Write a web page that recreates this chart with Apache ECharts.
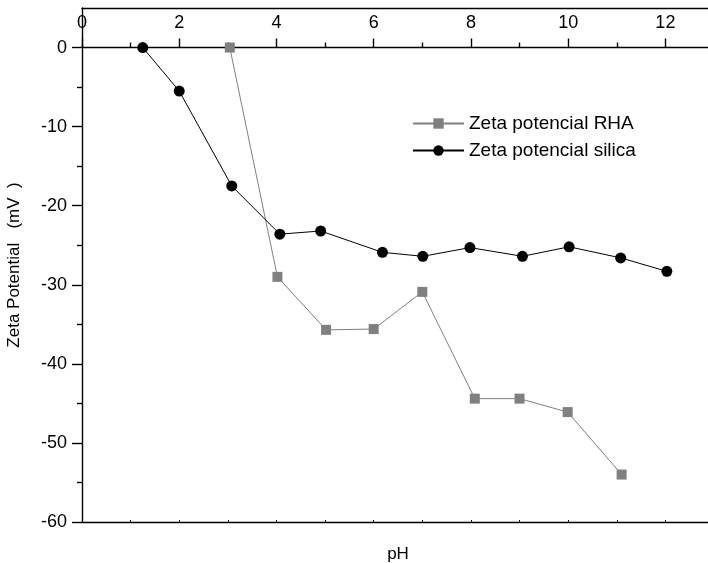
<!DOCTYPE html>
<html>
<head>
<meta charset="utf-8">
<script src="https://cdn.jsdelivr.net/npm/echarts@6/dist/echarts.min.js"></script>
<style>
html,body{margin:0;padding:0;background:#fff;}
#chart{width:708px;height:563px;}
</style>
</head>
<body>
<div id="chart"></div>
<script>
const seriesNames = ['Zeta potencial RHA', 'Zeta potencial silica'];
const rhaPH = [3.04, 4.02, 5.02, 6.0, 7.0, 8.08, 9.0, 9.99, 11.1];
const rhaZeta = [0, -29.0, -35.7, -35.6, -30.9, -44.4, -44.4, -46.1, -54.0];
const silicaPH = [1.25, 2.0, 3.08, 4.07, 4.91, 6.18, 7.01, 7.98, 9.06, 10.02, 11.08, 12.03];
const silicaZeta = [0, -5.5, -17.5, -23.6, -23.2, -25.9, -26.4, -25.3, -26.4, -25.2, -26.6, -28.3];
const xMajorTicks = [0, 2, 4, 6, 8, 10, 12];
const xMinorTicks = [1, 3, 5, 7, 9, 11];
const xBottomTicks = [1, 2, 3, 4, 5, 6, 7, 8, 9, 10, 11, 12];
const yMajorTicks = [-60, -50, -40, -30, -20, -10, 0];
const yMinorTicks = [-55, -45, -35, -25, -15, -5];
const xTitle = 'pH';
const yTitle = 'Zeta Potential   (mV  )';

const FONT = "'Liberation Sans', Arial, sans-serif";
const AX = { color: '#000', width: 1.4 };

const rhaData = rhaPH.map((x, i) => [x, rhaZeta[i]]);
const silicaData = silicaPH.map((x, i) => [x, silicaZeta[i]]);

const chart = echarts.init(document.getElementById('chart'));
chart.setOption({
  animation: false,
  backgroundColor: '#fff',
  textStyle: { fontFamily: FONT },
  grid: { left: 82, top: 8, width: 632, height: 514, containLabel: false, outerBoundsMode: 'none' },
  legend: {
    orient: 'vertical', left: 407, top: 109, itemWidth: 51, itemHeight: 13, itemGap: 8,
    textStyle: { fontSize: 19, color: '#000', fontFamily: FONT },
    data: seriesNames
  },
  xAxis: [
    { type: 'value', min: 0, max: 13, position: 'top',
      axisLine: { show: true, onZero: true, onZeroAxisIndex: 0, lineStyle: AX },
      axisTick: { show: true, inside: false, length: 9, customValues: xMajorTicks, lineStyle: AX },
      axisLabel: { show: false },
      splitLine: { show: false } },
    { type: 'value', min: 0, max: 13, position: 'top',
      axisLine: { show: false, onZero: true, onZeroAxisIndex: 0 },
      axisTick: { show: true, inside: false, length: 5, customValues: xMinorTicks, lineStyle: AX },
      axisLabel: { show: false }, splitLine: { show: false } },
    { type: 'value', min: 0, max: 13, position: 'top',
      axisLine: { show: true, onZero: false, lineStyle: AX },
      axisTick: { show: false },
      axisLabel: { show: true, inside: true, customValues: xMajorTicks, margin: 6, fontSize: 18, color: '#000', fontFamily: FONT },
      splitLine: { show: false } },
    { type: 'value', min: 0, max: 13, position: 'bottom',
      axisLine: { show: true, onZero: false, lineStyle: AX },
      axisTick: { show: true, inside: true, length: 2, customValues: xBottomTicks, lineStyle: { color: '#000', width: 1 } },
      axisLabel: { show: false }, splitLine: { show: false },
      name: xTitle, nameLocation: 'middle', nameGap: 24,
      nameTextStyle: { fontSize: 17, color: '#000', fontFamily: FONT } }
  ],
  yAxis: [
    { type: 'value', min: -60, max: 5, position: 'left',
      axisLine: { show: true, onZero: false, lineStyle: AX },
      axisTick: { show: true, inside: false, length: 10, customValues: yMajorTicks, lineStyle: AX },
      axisLabel: { show: true, customValues: yMajorTicks, margin: 15, fontSize: 18, color: '#000', fontFamily: FONT },
      splitLine: { show: false },
      name: yTitle, nameLocation: 'middle', nameGap: 59, nameRotate: 90,
      nameTextStyle: { fontSize: 17, color: '#000', fontFamily: FONT } },
    { type: 'value', min: -60, max: 5, position: 'left',
      axisLine: { show: false, onZero: false },
      axisTick: { show: true, inside: false, length: 5, customValues: yMinorTicks, lineStyle: AX },
      axisLabel: { show: false }, splitLine: { show: false } }
  ],
  series: [
    { name: seriesNames[0], type: 'line', xAxisIndex: 0, yAxisIndex: 0, data: rhaData,
      symbol: 'rect', symbolSize: 10, showAllSymbol: true,
      itemStyle: { color: '#808080' }, lineStyle: { color: '#808080', width: 1 }, z: 3 },
    { name: seriesNames[1], type: 'line', xAxisIndex: 0, yAxisIndex: 0, data: silicaData,
      symbol: 'circle', symbolSize: 11, showAllSymbol: true,
      itemStyle: { color: '#000' }, lineStyle: { color: '#000', width: 1 }, z: 4 }
  ]
});
</script>
</body>
</html>
